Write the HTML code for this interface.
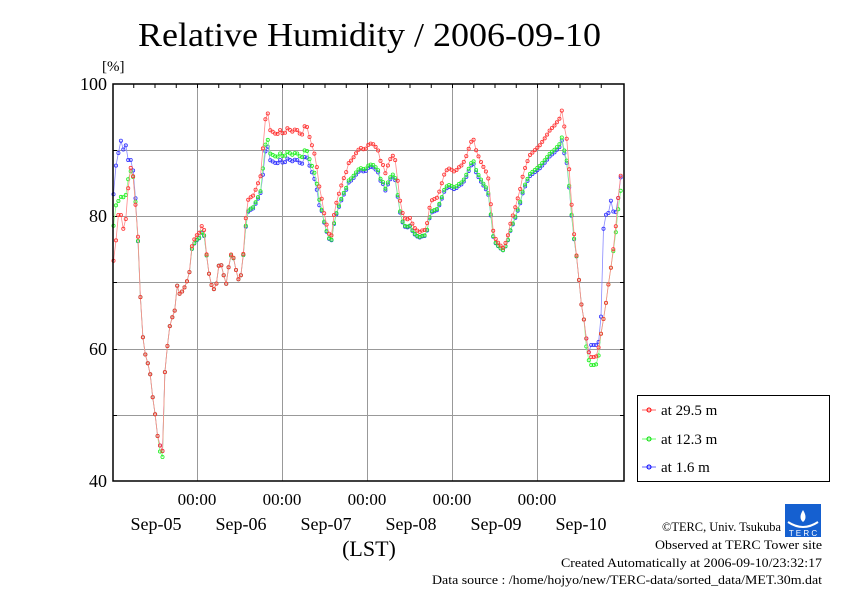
<!DOCTYPE html>
<html><head><meta charset="utf-8"><style>
body{margin:0;background:#fff;width:842px;height:595px;overflow:hidden}
svg{display:block;font-family:"Liberation Serif",serif}
</style></head><body>
<svg id="s" width="842" height="595" xmlns="http://www.w3.org/2000/svg">
<text x="138" y="46" font-size="34" textLength="463" lengthAdjust="spacingAndGlyphs">Relative Humidity / 2006-09-10</text>
<text x="102" y="71" font-size="15">[%]</text>
<g stroke="#999" stroke-width="1">
<line x1="113" x2="624" y1="150.5" y2="150.5"/><line x1="113" x2="624" y1="216.5" y2="216.5"/>
<line x1="113" x2="624" y1="282.5" y2="282.5"/><line x1="113" x2="624" y1="349.5" y2="349.5"/>
<line x1="113" x2="624" y1="415.5" y2="415.5"/>
<line x1="197.5" x2="197.5" y1="84" y2="481"/><line x1="282.5" x2="282.5" y1="84" y2="481"/>
<line x1="367.5" x2="367.5" y1="84" y2="481"/><line x1="452.5" x2="452.5" y1="84" y2="481"/>
<line x1="537.5" x2="537.5" y1="84" y2="481"/>
</g>
<g id="ticks" stroke="#000" stroke-width="1"></g>
<g id="data"></g>
<rect x="113" y="84" width="511" height="397" fill="none" stroke="#000" stroke-width="1.5"/>
<g font-size="18" text-anchor="end">
<text x="107" y="90">100</text><text x="107" y="222">80</text><text x="107" y="355">60</text><text x="107" y="487">40</text>
</g>
<g font-size="17" text-anchor="middle">
<text x="197" y="505">00:00</text><text x="282" y="505">00:00</text><text x="367" y="505">00:00</text><text x="452" y="505">00:00</text><text x="537" y="505">00:00</text>
</g>
<g font-size="18" text-anchor="middle">
<text x="156" y="530">Sep-05</text><text x="241" y="530">Sep-06</text><text x="326" y="530">Sep-07</text><text x="411" y="530">Sep-08</text><text x="496" y="530">Sep-09</text><text x="581" y="530">Sep-10</text>
<text x="369" y="556" font-size="22">(LST)</text>
</g>
<rect x="637.5" y="395.5" width="192" height="86" fill="#fff" stroke="#000"/>
<g font-size="15">
<line x1="642" x2="656" y1="410" y2="410" stroke="#f66"/><circle cx="649" cy="410" r="2" fill="none" stroke="#f00"/><text x="661" y="415">at 29.5 m</text>
<line x1="642" x2="656" y1="439" y2="439" stroke="#6f6"/><circle cx="649" cy="439" r="2" fill="none" stroke="#0d0"/><text x="661" y="444">at 12.3 m</text>
<line x1="642" x2="656" y1="467" y2="467" stroke="#66f"/><circle cx="649" cy="467" r="2" fill="none" stroke="#00f"/><text x="661" y="472">at 1.6 m</text>
</g>
<g>
<rect x="785" y="504" width="36" height="33" fill="#1560d0"/>
<path d="M788 522 Q803 532 818 522" stroke="#fff" stroke-width="2" fill="none"/>
<path d="M803 510 Q798 518 803 522 Q808 518 803 510Z" fill="#fff"/>
<text x="803" y="536" font-size="8" fill="#fff" text-anchor="middle" font-family="Liberation Sans">T E R C</text>
</g>
<g font-size="13">
<text x="662" y="531" textLength="119" lengthAdjust="spacingAndGlyphs">©TERC, Univ. Tsukuba</text>
<text x="655" y="549" textLength="167" lengthAdjust="spacingAndGlyphs">Observed at TERC Tower site</text>
<text x="561" y="567" textLength="261" lengthAdjust="spacingAndGlyphs">Created Automatically at 2006-09-10/23:32:17</text>
<text x="432" y="584" textLength="390" lengthAdjust="spacingAndGlyphs">Data source : /home/hojyo/new/TERC-data/sorted_data/MET.30m.dat</text>
</g>
</svg>
<script>
var ns='http://www.w3.org/2000/svg';
var tk=document.getElementById('ticks');
function ln(x1,y1,x2,y2){var l=document.createElementNS(ns,'line');l.setAttribute('x1',x1);l.setAttribute('y1',y1);l.setAttribute('x2',x2);l.setAttribute('y2',y2);tk.appendChild(l);}
for(var i=1;i<24;i++){var x=112.5+i*21.25;ln(x,84,x,88);}
[150.5,216.5,282.5,349.5,415.5].forEach(function(y){ln(113,y,117,y);ln(620,y,624,y);});
var R=[[113,265],[116,240],[118,215],[121,215],[123,230],[126,218],[128,190],[131,165],[133,175],[136,210],[139,250],[141,315],[144,350],[147,360],[150,372],[153,400],[156,420],[158,440],[161,448],[163,452],[165,370],[168,340],[170,325],[173,315],[175,310],[177,285],[180,295],[183,290],[186,285],[190,270],[192,245],[194,240],[197,235],[200,232],[202,225],[205,232],[207,260],[210,280],[213,290],[216,287],[218,270],[220,260],[223,272],[226,285],[229,265],[232,250],[235,265],[238,280],[241,275],[243,260],[245,225],[248,200],[251,197],[254,195],[257,185],[260,180],[262,165],[264,130],[267,107],[270,130],[273,132],[277,135],[280,130],[284,135],[287,128],[290,130],[293,132],[296,128],[299,133],[302,135],[305,125],[308,128],[310,140],[313,148],[316,160],[319,185],[322,200],[325,218],[328,230],[331,240],[334,215],[337,200],[340,190],[343,180],[346,173],[349,162],[352,160],[355,155],[358,150],[361,148],[365,150],[368,145],[372,143],[375,146],[378,150],[380,160],[383,165],[386,175],[388,165],[392,155],[395,158],[397,175],[400,200],[403,215],[406,220],[410,218],[413,225],[416,230],[420,232],[423,230],[426,230],[430,205],[433,198],[436,200],[440,190],[444,175],[448,168],[452,170],[455,172],[458,168],[462,165],[465,160],[470,145],[473,137],[476,150],[480,160],[485,170],[488,175],[490,195],[493,230],[496,240],[500,245],[503,248],[507,240],[510,225],[513,215],[516,205],[520,190],[523,175],[526,165],[530,155],[535,150],[540,145],[545,138],[550,130],[555,125],[560,118],[562,110],[564,125],[567,140],[570,180],[573,225],[576,250],[579,280],[582,310],[585,325],[587,345],[590,357],[595,357],[597,356],[600,340],[605,310],[609,280],[612,260],[615,235],[618,200],[620,180],[623,160]];
var BO=[[113,200],[116,165],[119,150],[121,140],[123,150],[126,145],[128,160],[131,160],[134,175],[136,205]];
var GO=[[113,230],[116,205],[119,200],[122,195],[125,200],[128,180],[131,170],[134,180],[136,208]];
var BE=[[590,345],[595,345],[598,345],[600,335],[602,300],[604,205],[606,215],[608,215],[611,200],[614,215],[617,210],[620,180],[623,168]];
function interp(P,x){if(x<=P[0][0])return P[0][1];for(var i=1;i<P.length;i++){if(x<=P[i][0]){var a=P[i-1],b=P[i];return a[1]+(b[1]-a[1])*(x-a[0])/(b[0]-a[0]);}}return P[P.length-1][1];}
var g=document.getElementById('data');
function series(fn,lc,mc){var pts=[];for(var x=113.5;x<=623;x+=2.45){var y=fn(x);pts.push(x.toFixed(1)+','+y.toFixed(1));}
var pl=document.createElementNS(ns,'polyline');pl.setAttribute('points',pts.join(' '));pl.setAttribute('fill','none');pl.setAttribute('stroke',lc);pl.setAttribute('stroke-width','0.8');g.appendChild(pl);
pts.forEach(function(p){var q=p.split(','),c=document.createElementNS(ns,'circle');c.setAttribute('cx',q[0]);c.setAttribute('cy',q[1]);c.setAttribute('r','1.6');c.setAttribute('fill','none');c.setAttribute('stroke',mc);c.setAttribute('stroke-width','0.8');g.appendChild(c);});}
function red(x){return interp(R,x);}
function green(x){if(x<136)return interp(GO,x);var r=red(x);var d=Math.max(0,260-r)*0.18;if(r>440)d+=6;if(x>585&&x<600)d+=8;return Math.min(r+d,470);}
function blue(x){if(x<136)return interp(BO,x);if(x>=590)return interp(BE,x);var r=red(x);var d=Math.max(0,260-r)*0.2;if(x>262&&x<320)d+=4;return r+d;}
series(blue,'#88f','#33f');series(green,'#8f8','#2e2');series(red,'#f88','#f33');
</script>
</body></html>
